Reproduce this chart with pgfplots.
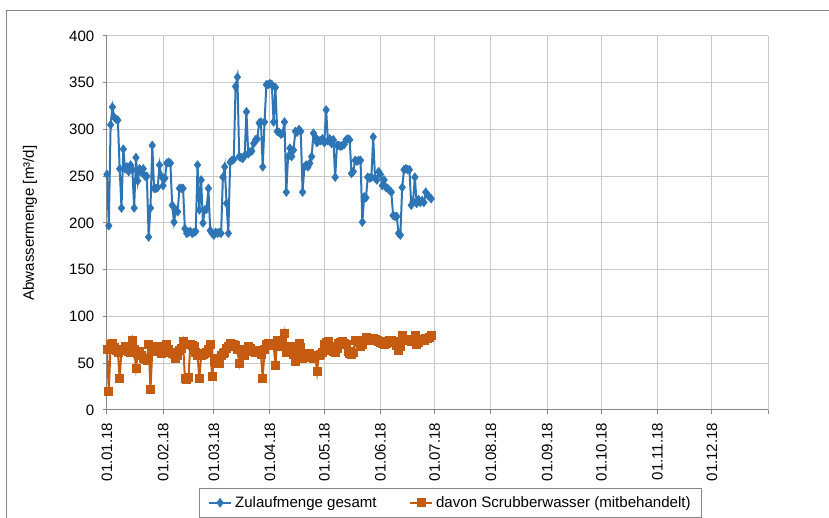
\documentclass[border=0pt]{standalone}
\usepackage{pgfplots}
\pgfplotsset{compat=1.18}
\usepackage{fontspec}
\setmainfont{Liberation Sans}

\definecolor{seriesblue}{RGB}{46,117,182}
\definecolor{seriesorange}{RGB}{197,90,17}
\definecolor{gridgray}{RGB}{200,200,200}
\definecolor{axisgray}{RGB}{134,134,134}

\newcommand{\chartfont}{\fontsize{11.3}{13}\selectfont}

% day of year (0 = 01.01.18) and daily volume in m3/d
\pgfplotstableread{
day val
0 252
1 197
2 305
3 324
4 313
5 311
6 310
7 258
8 216
9 279
10 258
11 260
12 255
13 262
14 257
15 216
16 270
17 245
18 258
19 254
20 258
21 250
22 250
23 185
24 216
25 283
26 237
27 237
28 238
29 262
30 250
31 240
32 248
33 264
34 265
35 264
36 219
37 201
38 214
39 212
40 237
41 237
42 237
43 194
44 189
45 190
46 191
47 189
48 190
49 191
50 262
51 214
52 246
53 200
54 214
55 215
56 237
57 192
58 189
59 187
60 190
61 189
62 190
63 189
64 249
65 260
66 221
67 189
68 265
69 267
70 268
71 346
72 356
73 271
74 270
75 269
76 272
77 319
78 274
79 276
80 277
81 285
82 289
83 290
84 307
85 308
86 260
87 308
88 348
89 348
90 349
91 348
92 308
93 345
94 298
95 297
96 295
97 296
98 308
99 233
100 271
101 280
102 271
103 278
104 298
105 297
106 300
107 298
108 233
109 260
110 262
111 260
112 264
113 271
114 296
115 292
116 286
117 288
118 288
119 290
120 286
121 321
122 288
123 290
124 285
125 289
126 249
127 283
128 283
129 282
130 283
131 284
132 289
133 290
134 289
135 253
136 255
137 267
138 266
139 267
140 267
141 201
142 228
143 227
144 249
145 248
146 249
147 292
148 248
149 246
150 255
151 252
152 240
153 246
154 238
155 237
156 235
157 233
158 208
159 207
160 207
161 189
162 187
163 238
164 257
165 258
166 257
167 257
168 219
169 223
170 249
171 221
172 225
173 222
174 224
175 222
176 233
177 230
178 228
179 226
}\zulauf

\pgfplotstableread{
day val
0 65
1 20
2 70
3 71
4 67
5 64
6 62
7 34
8 64
9 65
10 68
11 66
12 63
13 62
14 75
15 65
16 45
17 61
18 63
19 58
20 55
21 54
22 53
23 70
24 22
25 63
26 66
27 68
28 67
29 65
30 61
31 66
32 68
33 70
34 65
35 62
36 61
37 60
38 55
39 58
40 64
41 66
42 73
43 34
44 33
45 35
46 70
47 69
48 68
49 62
50 58
51 34
52 58
53 60
54 61
55 62
56 65
57 70
58 36
59 52
60 55
61 50
62 50
63 58
64 61
65 62
66 66
67 68
68 71
69 70
70 70
71 69
72 65
73 50
74 63
75 60
76 58
77 65
78 68
79 66
80 64
81 63
82 62
83 64
84 63
85 60
86 34
87 65
88 70
89 71
90 70
91 69
92 70
93 48
94 75
95 70
96 68
97 72
98 82
99 62
100 65
101 68
102 68
103 60
104 52
105 62
106 71
107 67
108 55
109 56
110 58
111 60
112 61
113 58
114 55
115 59
116 41
117 59
118 60
119 62
120 70
121 72
122 73
123 68
124 64
125 63
126 62
127 66
128 71
129 72
130 73
131 71
132 70
133 63
134 61
135 60
136 62
137 74
138 75
139 72
140 68
141 70
142 74
143 78
144 76
145 74
146 77
147 77
148 76
149 74
150 73
151 72
152 71
153 70
154 71
155 73
156 75
157 74
158 73
159 72
160 69
161 64
162 68
163 80
164 76
165 74
166 75
167 75
168 73
169 76
170 80
171 70
172 72
173 76
174 75
175 74
176 77
177 77
178 78
179 80
}\scrubber

\begin{document}
\begin{tikzpicture}
\useasboundingbox (0,0) rectangle (621.75pt,388.5pt);
% chart area frame (runs past the right and bottom edges)
\draw[axisgray, line width=0.75pt] (4.5pt,-10pt) -- (4.5pt,380.25pt) -- (640pt,380.25pt);

\begin{axis}[
  at={(80.25pt,81pt)}, anchor=south west,
  scale only axis, width=495.75pt, height=280.5pt,
  xmin=0, xmax=365, ymin=0, ymax=400,
  ytick={0,50,...,400},
  xtick={0,31,59,90,120,151,181,212,243,273,304,334,365},
  xticklabels={01.01.18,01.02.18,01.03.18,01.04.18,01.05.18,01.06.18,01.07.18,01.08.18,01.09.18,01.10.18,01.11.18,01.12.18,{}},
  axis x line*=bottom, axis y line*=left,
  axis line style={axisgray, line width=0.75pt},
  grid=major,
  major grid style={gridgray, line width=0.75pt},
  tick style={axisgray, line width=0.75pt},
  tick align=outside, major tick length=3pt,
  /pgf/number format/assume math mode=true,
  ticklabel style={font=\chartfont, black},
  xticklabel style={rotate=90, anchor=east},
  xticklabel shift=3pt, yticklabel shift=3pt,
  ylabel={Abwassermenge [m³/d]},
  every axis y label/.style={at={(axis description cs:-0.1165,0.5)}, rotate=90, anchor=center, font=\chartfont},
  legend columns=2,
  legend style={at={(axis description cs:0.5197,-0.2086)}, anchor=north,
    draw=axisgray, font=\chartfont, inner xsep=6pt, inner ysep=4pt,
    /tikz/every even column/.append style={column sep=22pt}},
]
\addplot[color=seriesblue, line width=1.5pt, mark=diamond*, mark size=3.2pt,
  mark options={solid, fill=seriesblue, line width=0.5pt}]
  table[x=day, y=val] {\zulauf};
\addlegendentry{Zulaufmenge gesamt}
\addplot[color=seriesorange, line width=1.5pt, mark=square*, mark size=3pt,
  mark options={solid, fill=seriesorange, line width=0.5pt}]
  table[x=day, y=val] {\scrubber};
\addlegendentry{davon Scrubberwasser (mitbehandelt)}
\end{axis}
\end{tikzpicture}
\end{document}
